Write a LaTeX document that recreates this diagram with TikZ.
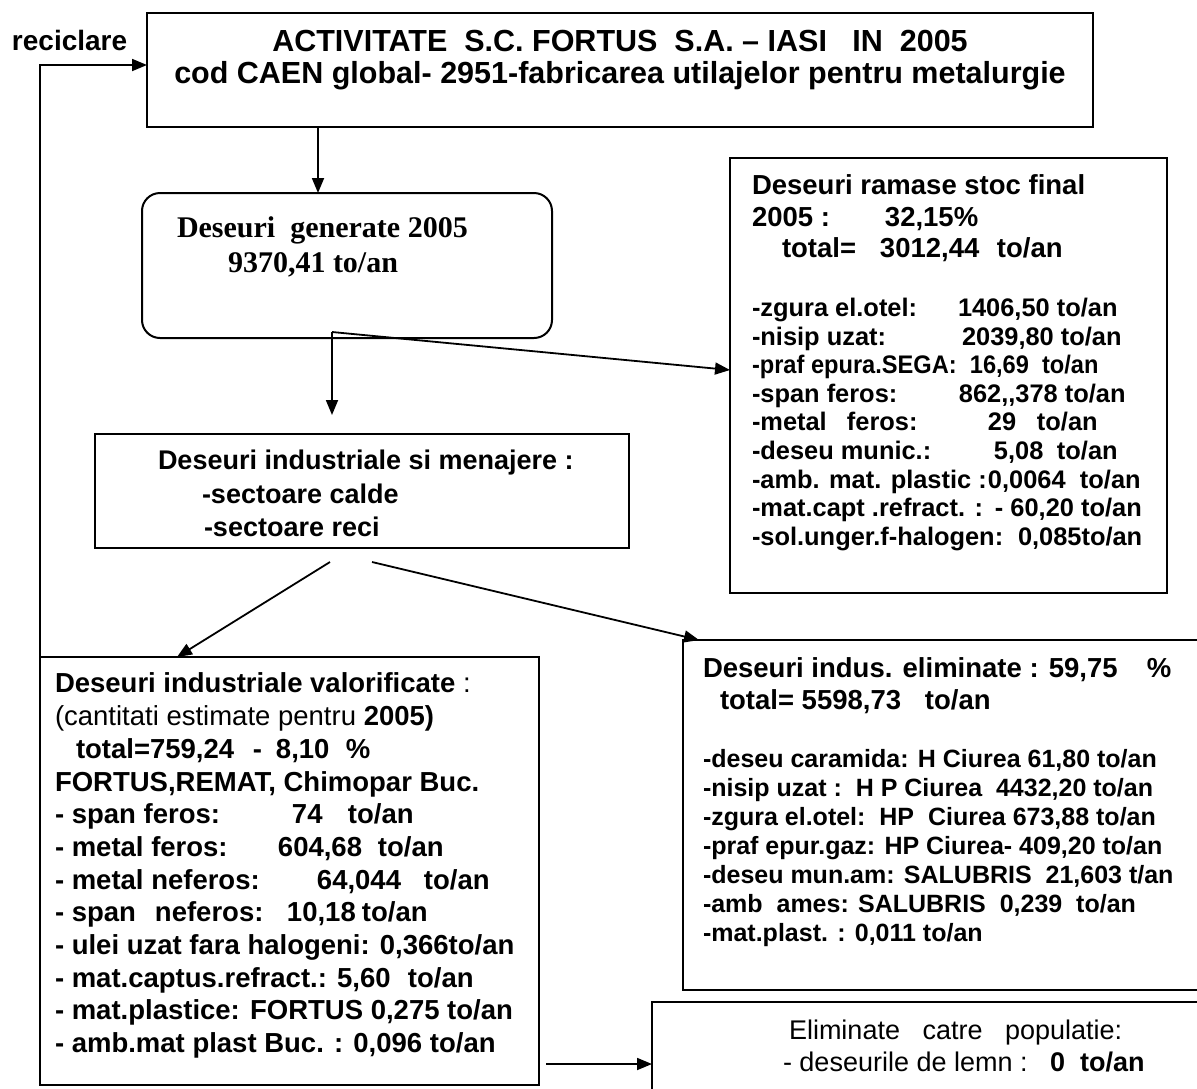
\documentclass[tikz,border=0pt]{standalone}
\usepackage{fontspec}
\usepackage{graphicx}
\setmainfont{Liberation Sans}
\newfontfamily\tnr{Liberation Serif}
\usetikzlibrary{arrows.meta,calc}
\newcommand\lft[2]{\makebox[#1pt][l]{#2}}
\begin{document}
\begin{tikzpicture}[x=1pt,y=-1pt,
  box/.style={draw, line width=2pt, inner sep=0pt, outer sep=0pt},
  txt/.style={inner sep=0pt, outer sep=0pt, anchor=north west, align=left},
  arr/.style={line width=1.8pt, -{Triangle[length=15pt,width=12pt]}},
  ]
\useasboundingbox (0,0) rectangle (1197,1088);
% boxes
\node[box, minimum width=946pt, minimum height=114pt] (top) at (620,70) {};
\node[box, rounded corners=18pt, minimum width=410pt, minimum height=145pt] (gen) at (347,265.5) {};
\node[box, minimum width=437pt, minimum height=435pt] (stoc) at (948.5,375.5) {};
\node[box, minimum width=534pt, minimum height=114pt] (ind) at (362,491) {};
\node[box, minimum width=499pt, minimum height=428pt] (valor) at (289.5,871) {};
\node[box, minimum width=547pt, minimum height=350pt] (elim) at (956.5,815) {};
\node[box, minimum width=578pt, minimum height=118pt] (elimpop) at (941,1061) {};
% texts
\node[txt, anchor=base west, font=\fontsize{28}{32}\selectfont\bfseries] (rec) at (12,50) {reciclare};
\node[txt, anchor=north, align=center, font=\fontsize{30.5}{32}\selectfont\bfseries] (toptxt) at (620,30)
  {ACTIVITATE\ \ S.C. FORTUS\ \ S.A. – IASI\ \ \ IN\ \ 2005\\cod CAEN global- 2951-fabricarea utilajelor pentru metalurgie};
\node[txt, font=\fontsize{30}{35}\selectfont\tnr\bfseries] (gentxt) at (177,217)
  {Deseuri\ \ generate 2005\\\hspace*{51pt}9370,41 to/an};
\node[txt, font=\fontsize{27.5}{31.5}\selectfont\bfseries] (stochead) at (752,175)
  {Deseuri ramase stoc final\\\lft{133}{2005 :}32,15\%\\\hspace*{30pt}\lft{98}{total=}\lft{117}{3012,44}to/an};
\node[txt, font=\fontsize{25.4}{28.6}\selectfont\bfseries] (stocitems) at (752,298)
  {\lft{206}{-zgura el.otel:}1406,50 to/an\\
   \lft{210}{-nisip uzat:}2039,80 to/an\\
   \scalebox{0.93}[1]{-praf epura.SEGA:\ \ 16,69\ \ to/an}\\
   \lft{207}{-span feros:}\lft{106}{862,{},378}to/an\\
   \lft{95}{-metal}\lft{141}{feros:}\lft{49}{29}to/an\\
   \lft{242}{-deseu munic.:}\lft{63}{5,08}to/an\\
   \lft{236}{-amb. mat. plastic :}\lft{92}{0,0064}to/an\\
   \lft{243}{-mat.capt .refract. :}- 60,20 to/an\\
   \lft{266}{-sol.unger.f-halogen:}0,085to/an};
\node[txt, font=\fontsize{27}{33.5}\selectfont\bfseries] (indtxt) at (158,450)
  {Deseuri industriale si menajere :\\\hspace*{44pt}-sectoare calde\\\hspace*{46pt}-sectoare reci};
\node[txt, font=\fontsize{27.5}{32.7}\selectfont\bfseries] (valtxt) at (55,673)
  {Deseuri industriale valorificate{\mdseries\ :}\\
   {\mdseries(cantitati estimate pentru }2005)\\
   \hspace*{21pt}\lft{177}{total=759,24}\lft{23}{-}\lft{70}{8,10}\%\\
   FORTUS,REMAT, Chimopar Buc.\\
   \lft{237}{- span feros:}\lft{56}{74}to/an\\
   \lft{223}{- metal feros:}\lft{100}{604,68}to/an\\
   \lft{262}{- metal neferos:}\lft{107}{64,044}to/an\\
   \lft{100}{- span}\lft{132}{neferos:}\lft{75}{10,18}to/an\\
   - ulei uzat fara halogeni: 0,366to/an\\
   \lft{353}{- mat.captus.refract.: 5,60}to/an\\
   - mat.plastice: FORTUS 0,275 to/an\\
   - amb.mat plast Buc. : 0,096 to/an};
\node[txt, font=\fontsize{27.5}{32}\selectfont\bfseries] (elimhead) at (703,658)
  {\lft{444}{Deseuri indus. eliminate : 59,75}\%\\\hspace*{17pt}\lft{205}{total= 5598,73}to/an};
\node[txt, font=\fontsize{25}{29}\selectfont\bfseries] (elimitems) at (703,749)
  {-deseu caramida: H Ciurea 61,80 to/an\\
   -nisip uzat :\ \ H P Ciurea\ \ 4432,20 to/an\\
   -zgura el.otel:\ \ HP\ \ Ciurea 673,88 to/an\\
   -praf epur.gaz: HP Ciurea- 409,20 to/an\\
   -deseu mun.am: SALUBRIS\ \ 21,603 t/an\\
   -amb\ \ ames: SALUBRIS\ \ 0,239\ \ to/an\\
   -mat.plast. : 0,011 to/an};
\node[txt, font=\fontsize{27}{32}\selectfont] (elimpoptxt) at (783,1020)
  {\hspace*{6pt}Eliminate\ \ \ catre\ \ \ populatie:\\- deseurile de lemn :\ \ \ \textbf{0\ \ to/an}};
% connectors
\coordinate (j) at ([xshift=-15pt,yshift=6pt]gen.south);
\coordinate (t2) at (332,415);
\coordinate (a1) at (330,562);
\coordinate (a2) at (372,562);
\coordinate (a5) at (546,1064);
\draw[arr] ([xshift=-29pt]gen.north |- top.south) -- ([xshift=-29pt]gen.north);
\draw[arr] (j) -- (t2);
\draw[arr] (j) -- ([yshift=5.5pt]stoc.west);
\draw[arr] (a1) -- ([xshift=-112.5pt]valor.north);
\draw[arr] (a2) -- ([xshift=16pt]elim.north west);
\draw[arr] (valor.north west) |- ([yshift=5pt]top.west);
\draw[arr] (a5) -- (elimpop.west |- a5);
\end{tikzpicture}
\end{document}
